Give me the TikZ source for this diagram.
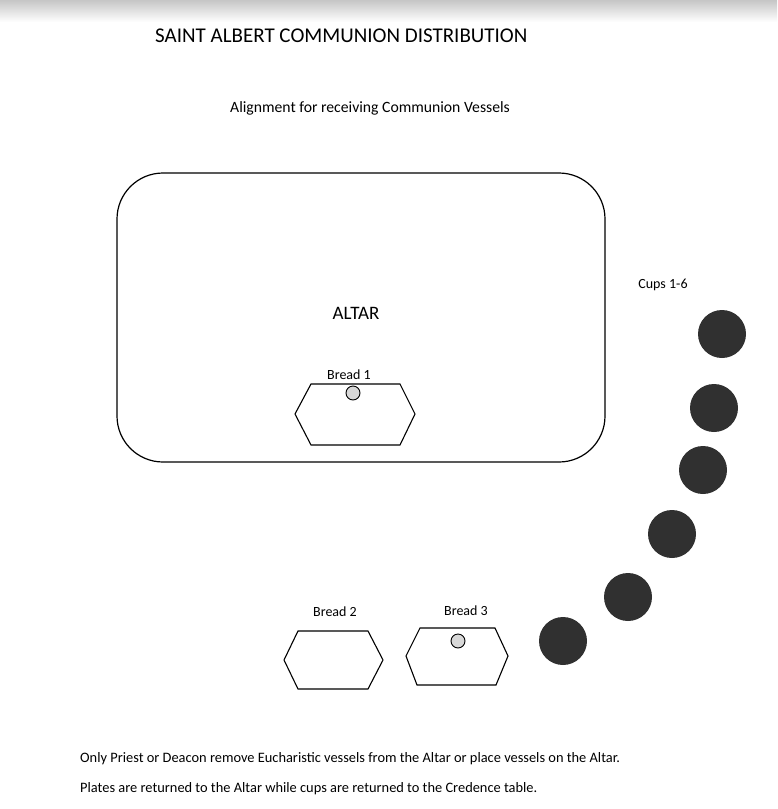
\documentclass[tikz,border=0pt]{standalone}
\usepackage{fontspec}
\setmainfont{Carlito}
\usetikzlibrary{positioning}
\definecolor{cupgray}{HTML}{303030}
\definecolor{breadgray}{HTML}{D8D8D8}

\begin{document}
\begin{tikzpicture}[x=1pt,y=-1pt,
    txt/.style={inner sep=0pt,anchor=west},
    lbl/.style={inner sep=0pt,font=\fontsize{14}{16}\selectfont},
    plate/.style={draw,line width=1.1pt,line join=miter},
    cup/.style={circle,fill=cupgray,minimum size=48pt,inner sep=0pt},
    wafer/.style={circle,draw,line width=0.9pt,fill=breadgray,minimum size=14pt,inner sep=0pt}]
    \useasboundingbox (0,0) rectangle (777,809);
    \shade[top color=gray!45,bottom color=white] (0,0) rectangle (777,22);

    \node[txt,font=\fontsize{21}{24}\selectfont] (title) at (155,36) {SAINT ALBERT COMMUNION DISTRIBUTION};
    \node[txt,font=\fontsize{15.7}{18}\selectfont] (sub) at (230,108) {Alignment for receiving Communion Vessels};

    % altar
    \draw[line width=1.2pt,rounded corners=46pt] (117,173) rectangle (605,462);
    \node[inner sep=0pt,font=\fontsize{19}{22}\selectfont] (altar) at (356,313) {ALTAR};

    % bread plates
    \node[lbl] (b1) at (349,375) {Bread 1};
    \draw[plate] (295,414) -- ++(16,-30) -- ++(89,0) -- ++(15,30) -- ++(-15,31) -- ++(-89,0) -- cycle;
    \node[wafer] (w1) at (353,393) {};

    \node[lbl] (b2) at (335,612) {Bread 2};
    \draw[plate] (284,660) -- ++(14,-29) -- ++(70,0) -- ++(15,29) -- ++(-15,29) -- ++(-70,0) -- cycle;

    \node[lbl] (b3) at (466,611) {Bread 3};
    \draw[plate] (406,656) -- ++(14,-28) -- ++(75,0) -- ++(13,28) -- ++(-12,29) -- ++(-79,0) -- cycle;
    \node[wafer] (w3) at (458,641) {};

    % cups
    \node[lbl] (cups) at (663,285) {Cups 1-6};
    \node[cup] (c1) at (722,334) {};
    \node[cup] (c2) at (714,408) {};
    \node[cup] (c3) at (703,470) {};
    \node[cup] (c4) at (672,534) {};
    \node[cup] (c5) at (628,597) {};
    \node[cup] (c6) at (563,641) {};

    \node[txt,font=\fontsize{14.4}{16}\selectfont] (note1) at (80,759) {Only Priest or Deacon remove Eucharistic vessels from the Altar or place vessels on the Altar.};
    \node[txt,font=\fontsize{14.4}{16}\selectfont] (note2) at (80,789) {Plates are returned to the Altar while cups are returned to the Credence table.};
  \end{tikzpicture}
\end{document}
